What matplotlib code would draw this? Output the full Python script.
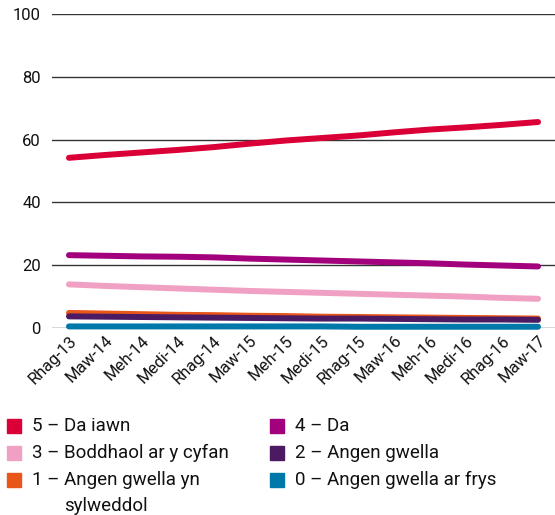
import matplotlib
matplotlib.use("Agg")
import matplotlib.pyplot as plt
from matplotlib.patches import Rectangle

plt.rcParams['font.family'] = ['Roboto', 'DejaVu Sans']

months = ["Rhag-13", "Maw-14", "Meh-14", "Medi-14", "Rhag-14", "Maw-15", "Meh-15",
          "Medi-15", "Rhag-15", "Maw-16", "Meh-16", "Medi-16", "Rhag-16", "Maw-17"]

da_iawn = [54.2, 55.1, 55.9, 56.7, 57.6, 58.7, 59.7, 60.5, 61.3, 62.3, 63.2, 63.9, 64.7, 65.6]
da = [23.2, 23.0, 22.8, 22.7, 22.5, 22.1, 21.8, 21.5, 21.2, 20.9, 20.6, 20.2, 19.9, 19.6]
boddhaol = [13.9, 13.4, 13.0, 12.6, 12.2, 11.8, 11.5, 11.2, 10.9, 10.6, 10.3, 10.0, 9.6, 9.3]
angen_gwella = [3.7, 3.6, 3.5, 3.4, 3.3, 3.2, 3.1, 3.0, 3.0, 2.9, 2.8, 2.7, 2.7, 2.6]
sylweddol = [4.8, 4.6, 4.4, 4.2, 4.1, 3.9, 3.8, 3.6, 3.5, 3.4, 3.3, 3.2, 3.1, 3.0]
ar_frys = [0.5, 0.5, 0.5, 0.5, 0.5, 0.5, 0.5, 0.5, 0.4, 0.4, 0.4, 0.4, 0.4, 0.4]

labels = ["5 – Da iawn", "4 – Da", "3 – Boddhaol ar y cyfan", "2 – Angen gwella",
          "1 – Angen gwella yn\nsylweddol", "0 – Angen gwella ar frys"]
colors = ["#DA0037", "#A3007D", "#F0A0C2", "#4B1A62", "#E8561A", "#0079AA"]
series = [da_iawn, da, boddhaol, angen_gwella, sylweddol, ar_frys]

fig = plt.figure(figsize=(5.55, 5.15), dpi=100)
ax = fig.add_axes([52 / 555, 1 - 328 / 515, 503 / 555, 314 / 515])

x = list(range(len(months)))
# draw order: bottom ones first so the top series sit above
for i in [5, 4, 3, 2, 1, 0]:
    ax.plot(x, series[i], color=colors[i], lw=4.3, solid_capstyle="round",
            clip_on=False, zorder=3)

ax.set_ylim(0, 100)
ax.set_xlim(-0.47, 13.47)
ax.set_yticks([0, 20, 40, 60, 80, 100])
ax.yaxis.grid(True, color="#333333", lw=1)
ax.set_axisbelow(True)
for s in ax.spines.values():
    s.set_visible(False)
ax.tick_params(axis="both", length=0, labelsize=12, colors="#111111")
ax.tick_params(axis="y", pad=8)
ax.set_xticks(x)
ax.set_xticklabels(months, rotation=45, ha="right", rotation_mode="anchor")

# legend, two columns
rows_y = [426, 453, 480]
col_x = [7, 270]
renderer = fig.canvas.get_renderer()
for k, lab in enumerate(labels):
    col = k % 2
    row = k // 2
    yc = rows_y[row]
    fig.add_artist(Rectangle((col_x[col] / 555, 1 - (yc + 7) / 515), 14 / 555, 14 / 515,
                             transform=fig.transFigure, color=colors[k]))
    lines = lab.split("\n")
    tx = (col_x[col] + 25) / 555
    t = fig.text(tx, 1 - yc / 515, lines[0], fontsize=13.5,
                 va="center", ha="left", color="#111111")
    if len(lines) > 1:
        # hanging indent: second line lines up after the "1 – " prefix
        pre = fig.text(0, 0, lines[0].split("Angen")[0], fontsize=13.5)
        w = pre.get_window_extent(renderer).width
        pre.remove()
        fig.text(tx + w / 555, 1 - (yc + 26) / 515, lines[1], fontsize=13.5,
                 va="center", ha="left", color="#111111")

fig.savefig("out.png", dpi=100)
